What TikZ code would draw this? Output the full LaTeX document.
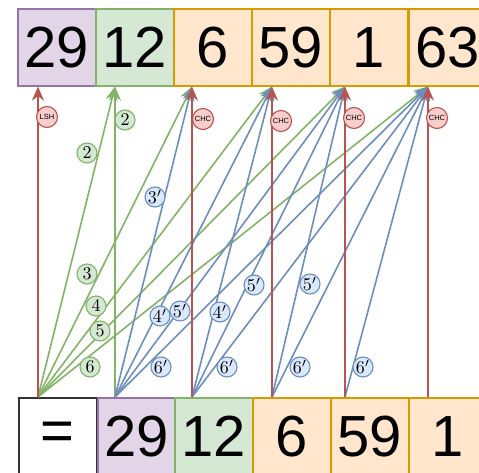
\documentclass[tikz,border=0pt]{standalone}
\usepackage{fontspec}
\setsansfont{Liberation Sans}
\usetikzlibrary{arrows.meta}
\definecolor{purpF}{HTML}{E1D5E7}\definecolor{purpS}{HTML}{9673A6}
\definecolor{grnF}{HTML}{D5E8D4}\definecolor{grnS}{HTML}{82B366}
\definecolor{orgF}{HTML}{FFE6CC}\definecolor{orgS}{HTML}{D79B00}
\definecolor{redF}{HTML}{F8CECC}\definecolor{redS}{HTML}{B85450}
\definecolor{bluF}{HTML}{DAE8FC}\definecolor{bluS}{HTML}{6C8EBF}
\definecolor{eqS}{HTML}{333333}
\newcommand{\lbltxt}[1]{\scalebox{1.8}{$#1$}}
\begin{document}
\begin{tikzpicture}[x=1pt,y=-1pt,
  cell/.style={draw, line width=1.6pt, minimum width=78pt, minimum height=77pt,
    inner sep=0pt, anchor=north west, font=\sffamily\fontsize{58}{58}\selectfont},
  pcell/.style={cell, fill=purpF, draw=purpS},
  gcell/.style={cell, fill=grnF, draw=grnS},
  ocell/.style={cell, fill=orgF, draw=orgS},
  ecell/.style={cell, fill=white, draw=eqS},
  conn/.style={line width=1.6pt, -{Stealth[length=14pt,width=12pt,inset=4.5pt]}},
  gconn/.style={conn, draw=grnS, color=grnS},
  bconn/.style={conn, draw=bluS, color=bluS},
  rconn/.style={conn, draw=redS, color=redS},
  lab/.style={circle, line width=1.1pt, minimum size=20pt, inner sep=0pt},
  glab/.style={lab, draw=grnS, fill=grnF},
  blab/.style={lab, draw=bluS, fill=bluF},
  rlab/.style={circle, line width=1.1pt, minimum size=21pt, inner sep=0pt,
    draw=redS, fill=redF, font=\sffamily\fontsize{7.5}{7.5}\selectfont},
]
\useasboundingbox (0,0) rectangle (479,473);
\clip (0,0) rectangle (479,473);
% top row
\node[pcell] (t0) at (17,8) {29};
\node[gcell] (t1) at (95,8) {12};
\node[ocell] (t2) at (173,8) {6};
\node[ocell] (t3) at (251,8) {59};
\node[ocell] (t4) at (329,8) {1};
\node[ocell] (t5) at (408,8) {63};
% bottom row
\node[ecell] (b0) at (18,397) {=};
\node[pcell] (b1) at (97,397) {29};
\node[gcell] (b2) at (174,397) {12};
\node[ocell] (b3) at (252,397) {6};
\node[ocell] (b4) at (330,397) {59};
\node[ocell] (b5) at (408,397) {1};
% ports
\coordinate (T0) at ([xshift=21pt]t0.south west);
\coordinate (T1) at ([xshift=20pt]t1.south west);
\coordinate (T2) at ([xshift=19pt]t2.south west);
\coordinate (T3) at ([xshift=21pt]t3.south west);
\coordinate (T4) at ([xshift=16pt]t4.south west);
\coordinate (T5) at ([xshift=20pt]t5.south west);
\coordinate (S0) at ([xshift=20pt]b0.north west);
\coordinate (S1) at ([xshift=18pt]b1.north west);
\coordinate (S2) at ([xshift=18pt]b2.north west);
\coordinate (S3) at ([xshift=20pt]b3.north west);
\coordinate (S4) at ([xshift=15pt]b4.north west);
\coordinate (S5) at ([xshift=20pt]b5.north west);
% green
\draw[gconn] (S0) -- (T1);
\draw[gconn] (S0) -- (T2);
\draw[gconn] (S0) -- (T3);
\draw[gconn] (S0) -- (T4);
\draw[gconn] (S0) -- (T5);
\draw[gconn] (S1) -- (T1);
% blue
\draw[bconn] (S1) -- (T2);
\draw[bconn] (S1) -- (T3);
\draw[bconn] (S1) -- (T4);
\draw[bconn] (S1) -- (T5);
\draw[bconn] (S2) -- (T3);
\draw[bconn] (S2) -- (T4);
\draw[bconn] (S2) -- (T5);
\draw[bconn] (S3) -- (T4);
\draw[bconn] (S3) -- (T5);
\draw[bconn] (S4) -- (T5);
% red
\draw[rconn] (S0) -- (T0);
\draw[rconn] (S2) -- (T2);
\draw[rconn] (S3) -- (T3);
\draw[rconn] (S4) -- (T4);
\draw[rconn] (S5) -- (T5);
% labels
\node[rlab] (l0) at (47,117) {LSH};
\node[rlab] (l1) at (203,119) {CHC};
\node[rlab] (l2) at (281,121) {CHC};
\node[rlab] (l3) at (354,118) {CHC};
\node[rlab] (l4) at (437,118) {CHC};
\node[glab] (g1) at (125,120) {\lbltxt{2}};
\node[glab] (g2) at (87,153) {\lbltxt{2}};
\node[glab] (g3) at (87,274) {\lbltxt{3}};
\node[glab] (g4) at (96,306) {\lbltxt{4}};
\node[glab] (g5) at (100,331) {\lbltxt{5}};
\node[glab] (g6) at (90,367) {\lbltxt{6}};
\node[blab] (q1) at (155,197) {\lbltxt{3'}};
\node[blab] (q2) at (160,316) {\lbltxt{4'}};
\node[blab] (q3) at (180,311) {\lbltxt{5'}};
\node[blab] (q4) at (220,312) {\lbltxt{4'}};
\node[blab] (q5) at (161,367) {\lbltxt{6'}};
\node[blab] (q6) at (227,367) {\lbltxt{6'}};
\node[blab] (q7) at (254,285) {\lbltxt{5'}};
\node[blab] (q8) at (310,284) {\lbltxt{5'}};
\node[blab] (q9) at (300,367) {\lbltxt{6'}};
\node[blab] (q10) at (363,367) {\lbltxt{6'}};
\end{tikzpicture}
\end{document}
